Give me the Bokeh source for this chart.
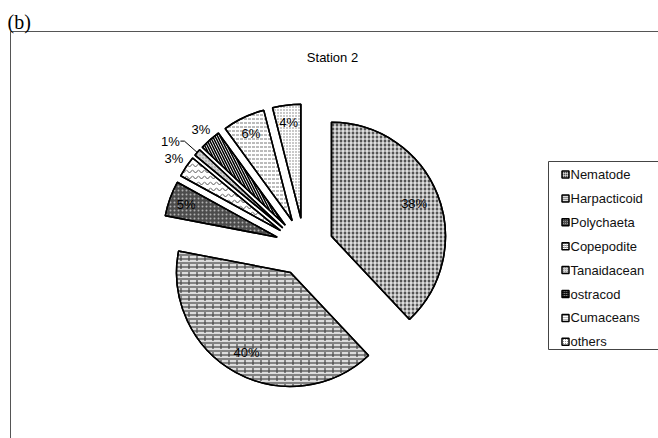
import numpy as np
from bokeh.plotting import figure
from bokeh.models import Range1d, ColumnDataSource
from bokeh.core.properties import value
from bokeh.embed import file_html
from bokeh.resources import INLINE

# ---- data -------------------------------------------------------------
categories = ["Nematode", "Harpacticoid", "Polychaeta", "Copepodite",
              "Tanaidacean", "ostracod", "Cumaceans", "others"]
percent = [38, 40, 5, 3, 1, 3, 6, 4]

# ---- per-slice styling ------------------------------------------------
fills = ["#555555", "#dcdcdc", "#4c4c4c", "#ffffff",
         "#d0d0d0", "#ffffff", "#ffffff", "#ffffff"]
hatches = ["cross", "horizontal_line", "dot", "horizontal_wave",
           "dot", "left_diagonal_line", "horizontal_dash", "dot"]
hatch_colors = ["#ffffff", "#444444", "#b0b0b0", "#555555",
                "#8a8a8a", "#000000", "#777777", "#777777"]
hatch_scales = [4, 4, 4, 6, 3, 5, 4, 3]
hatch_weights = [1.2, 1.2, 1, 1, 1, 1.5, 1, 1]
# second hatch layer (brick joints); blank where a slice has only one
overlay_hatches = [" ", "vertical_dash", " ", " ", " ", " ", " ", " "]
# radial position of each percentage label, as a fraction of the radius
label_r = [0.78, 0.80, 0.85, 1.13, 1.15, 1.12, 0.85, 0.85]

W, H = 658, 438
SANS = value("Liberation Sans")


def Y(ypix):
    """Convert a top-down pixel row into the figure's y-up coordinate."""
    return H - ypix


p = figure(width=W, height=H, x_range=Range1d(0, W), y_range=Range1d(0, H),
           output_backend="svg", toolbar_location=None,
           x_axis_type=None, y_axis_type=None, min_border=0)
p.grid.visible = False
p.outline_line_color = None
p.background_fill_color = "white"

# panel frame (open on the right and bottom)
p.line(x=[10, 10, W + 5], y=[Y(H + 5), Y(31), Y(31)],
       line_color="#555555", line_width=1)
p.text(x=[7], y=[Y(21)], text=["(b)"], text_font=value("Liberation Serif"),
       text_font_size="20px", text_baseline="middle", text_align="left")
p.text(x=[332], y=[Y(57)], text=["Station 2"], text_font=SANS,
       text_font_size="13px", text_align="center", text_baseline="middle")

# ---- exploded pie -----------------------------------------------------
cx, cy = 304, Y(246.5)
radius = 114
explode = 29

frac = np.array(percent, dtype=float) / sum(percent)
ends = np.cumsum(frac) * 2 * np.pi          # clockwise from 12 o'clock
starts = ends - frac * 2 * np.pi
mids = (starts + ends) / 2
ox = cx + explode * np.sin(mids)
oy = cy + explode * np.cos(mids)

src = ColumnDataSource(dict(
    x=ox, y=oy,
    start=np.pi / 2 - starts, end=np.pi / 2 - ends,
    fill=fills, hatch=hatches, hcol=hatch_colors,
    hscale=hatch_scales, hweight=hatch_weights,
    hatch2=overlay_hatches,
))
p.wedge(x="x", y="y", radius=radius, start_angle="start", end_angle="end",
        direction="clock", source=src,
        fill_color="fill", hatch_pattern="hatch", hatch_color="hcol",
        hatch_scale="hscale", hatch_weight="hweight",
        line_color="black", line_width=1.5)
p.wedge(x="x", y="y", radius=radius, start_angle="start", end_angle="end",
        direction="clock", source=src,
        fill_color=None, hatch_pattern="hatch2", hatch_color="#444444",
        hatch_scale=8, hatch_weight=1.2,
        line_color="black", line_width=1.5)

# percentage labels
lx, ly, lt = [], [], []
for i, pct in enumerate(percent):
    rr = radius * label_r[i]
    ex = ox[i] + rr * np.sin(mids[i])
    ey = oy[i] + rr * np.cos(mids[i])
    if categories[i] == "Tanaidacean":
        # tiny slice: leader line from the arc to a label on the left
        ax = ox[i] + radius * np.sin(mids[i])
        ay = oy[i] + radius * np.cos(mids[i])
        p.line(x=[ax, ex, ex - 4], y=[ay, ey, ey], line_color="black",
               line_width=1)
        ex -= 14
    lx.append(ex)
    ly.append(ey)
    lt.append(f"{pct}%")
p.text(x=lx, y=ly, text=lt, text_font=SANS, text_font_size="13px",
       text_align="center", text_baseline="middle", text_color="#000000")

# ---- legend -----------------------------------------------------------
leg_left, leg_top, leg_bottom = 548, 161, 349
p.line(x=[W + 5, leg_left, leg_left, W + 5],
       y=[Y(leg_top), Y(leg_top), Y(leg_bottom), Y(leg_bottom)],
       line_color="#444444", line_width=1)
rows = [Y(174 + 23.9 * i) for i in range(len(categories))]
p.rect(x=[565] * len(categories), y=rows, width=7, height=7,
       fill_color=fills, hatch_pattern=hatches, hatch_color=hatch_colors,
       hatch_scale=2, hatch_weight=1, line_color="black", line_width=1.5)
p.text(x=[570] * len(categories), y=rows, text=categories, text_font=SANS,
       text_font_size="13px", text_align="left", text_baseline="middle",
       text_color="#111111")

open("out.html", "w").write(file_html(p, INLINE))
